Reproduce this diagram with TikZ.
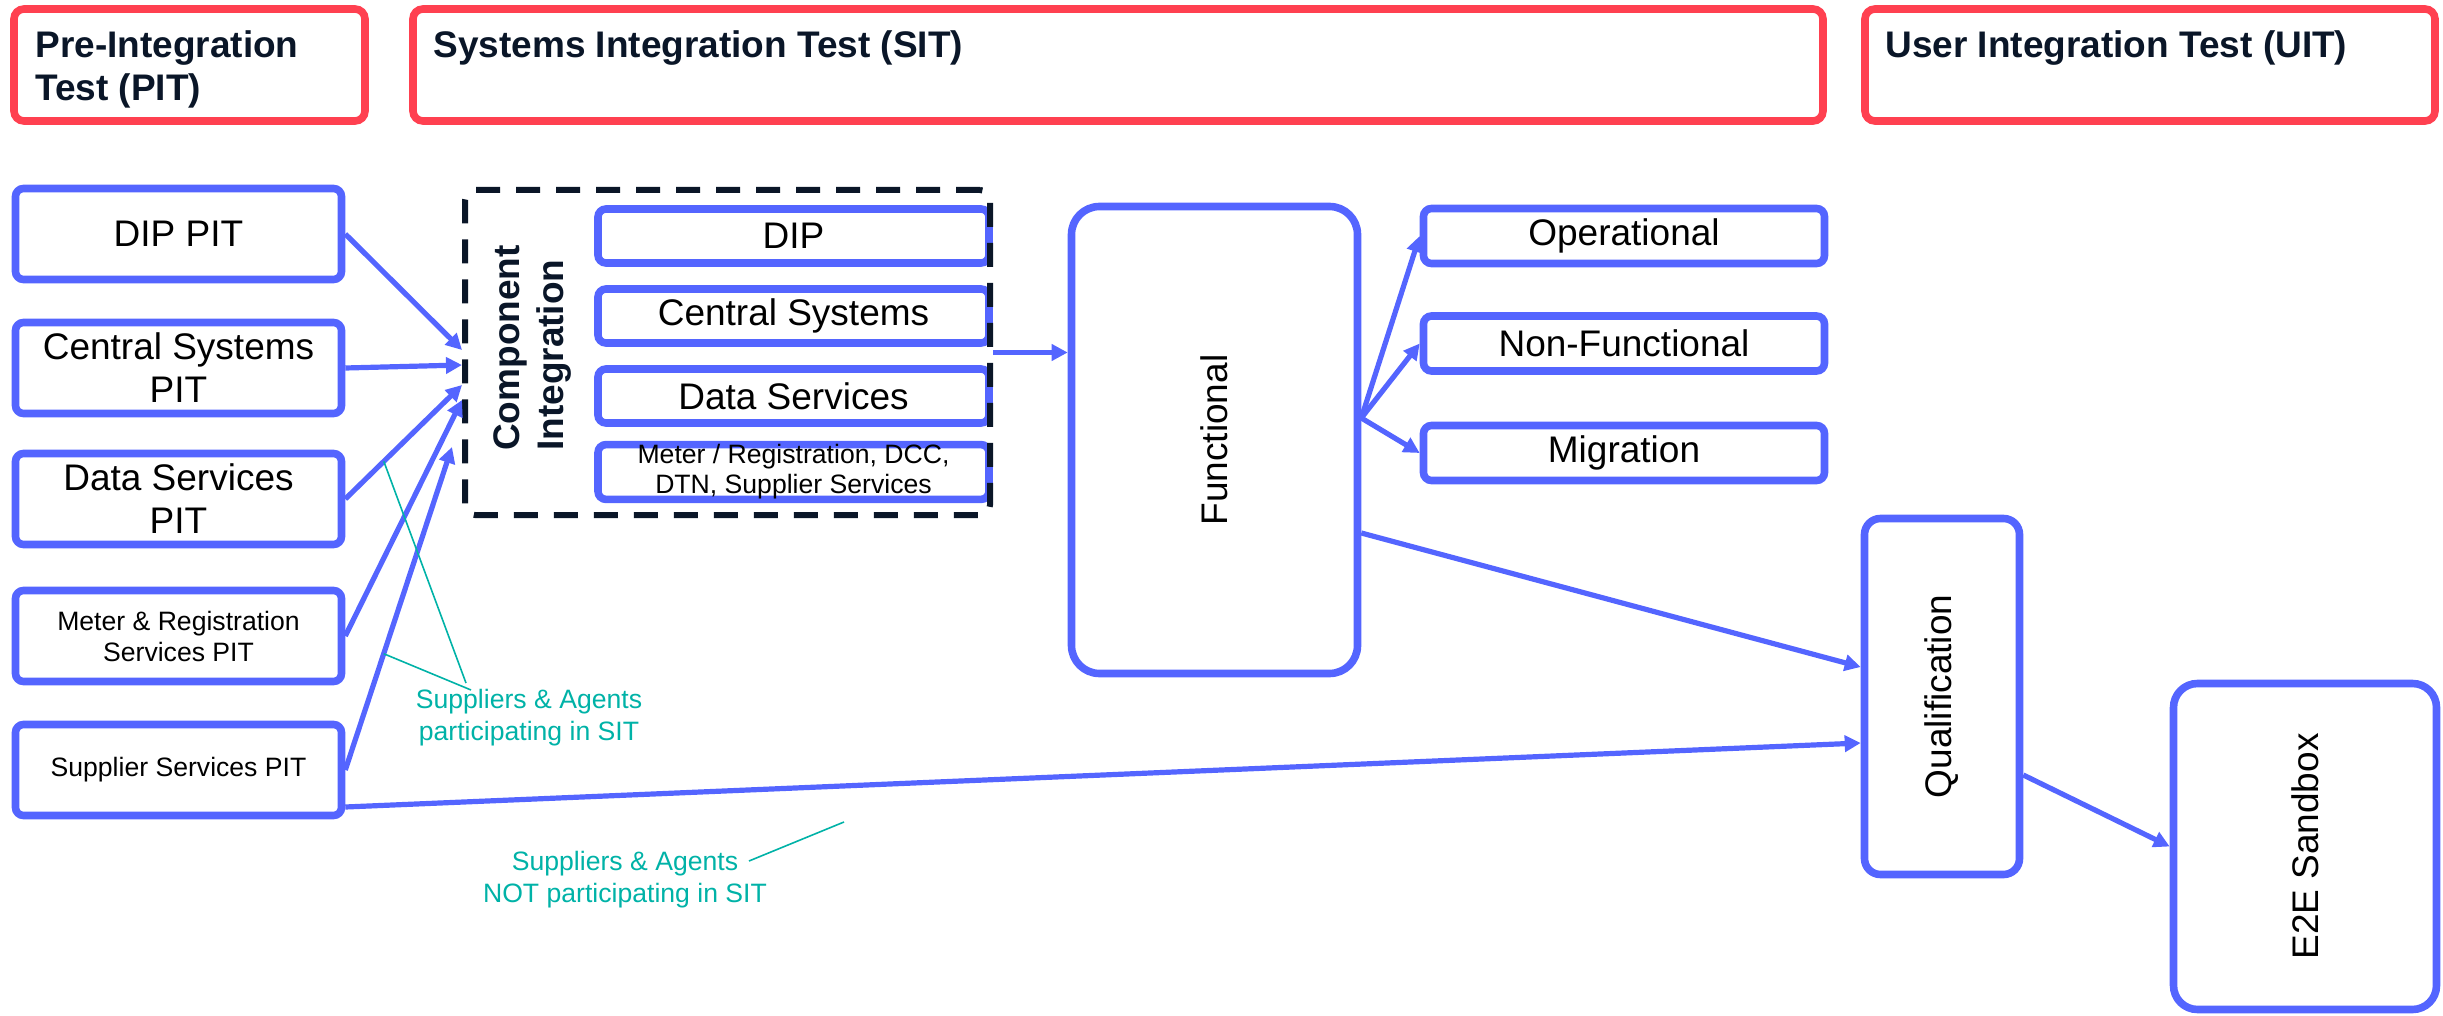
\documentclass[tikz,border=0pt]{standalone}
\usepackage{fontspec}
\usepackage{graphicx}
\setmainfont{Liberation Sans}
\usetikzlibrary{arrows.meta,calc}
\definecolor{cblue}{RGB}{84,101,255}
\definecolor{cred}{RGB}{255,64,80}
\definecolor{cnavy}{RGB}{10,22,40}
\definecolor{cteal}{RGB}{0,178,167}
\begin{document}
\begin{tikzpicture}[x=0.5pt,y=-0.5pt,
 hdr/.style={draw=cred, line width=3.8pt, rounded corners=5pt, minimum height=56pt},
 hdrtext/.style={font=\bfseries\fontsize{18.5}{21.5}\selectfont, text=cnavy, align=left, inner sep=0pt, anchor=north west},
 bbox/.style={draw=cblue, line width=3.8pt, rounded corners=4pt, align=center, font=\fontsize{18.5}{21.5}\selectfont, inner sep=0pt},
 smalltxt/.style={font=\fontsize{13.3}{15.5}\selectfont},
 big/.style={draw=cblue, line width=3.8pt, font=\fontsize{18.5}{21.5}\selectfont, inner sep=0pt},
 arr/.style={draw=cblue, line width=2.6pt, -{Triangle[length=8pt,width=8pt]}},
 note/.style={text=cteal, font=\fontsize{13.3}{16}\selectfont, align=center, inner sep=0pt},
 noteline/.style={draw=cteal, line width=0.8pt},
]
\useasboundingbox (0,0) rectangle (2443,1016);

% headers
\node[hdr, minimum width=175.5pt] (pit) at (189.5,65) {};
\node[hdr, minimum width=705pt] (sit) at (1118,65) {};
\node[hdr, minimum width=285pt] (uit) at (2150,65) {};
\node[hdrtext] (pitlbl) at (35,30) {Pre-Integration\\Test (PIT)};
\node[hdrtext] (sitlbl) at (433,30) {Systems Integration Test (SIT)};
\node[hdrtext] (uitlbl) at (1885,30) {User Integration Test (UIT)};

% PIT boxes
\node[bbox, minimum width=163pt, minimum height=45.5pt] (dippit) at (178.5,234) {DIP PIT};
\node[bbox, minimum width=163pt, minimum height=45.5pt] (cspit) at (178.5,368) {Central Systems\\PIT};
\node[bbox, minimum width=163pt, minimum height=45.5pt] (dspit) at (178.5,499) {Data Services\\PIT};
\node[bbox, smalltxt, minimum width=163pt, minimum height=45.5pt] (mrpit) at (178.5,636) {Meter \& Registration\\Services PIT};
\node[bbox, smalltxt, minimum width=163pt, minimum height=45.5pt] (sspit) at (178.5,770) {Supplier Services PIT};

% component integration
\node[bbox, minimum width=195.5pt, minimum height=27pt] (dip) at (793.5,236) {DIP};
\node[bbox, minimum width=195.5pt, minimum height=27pt] (cs) at (793.5,316) {Central Systems};
\node[bbox, minimum width=195.5pt, minimum height=27pt] (ds) at (793.5,396) {Data Services};
\node[bbox, minimum width=195.5pt, minimum height=27pt, font=\fontsize{13.3}{15}\selectfont] (mr) at (793.5,472) {Meter / Registration, DCC,\\DTN, Supplier Services};
\node[draw=cnavy, line width=3pt, dash pattern=on 12pt off 8pt, rounded corners=5pt, minimum width=262.5pt, minimum height=162.5pt] (ci) at (727.5,352.5) {};
\node[font=\bfseries\fontsize{18.5}{22}\selectfont, text=cnavy, rotate=90, align=left, inner sep=0pt] (cilbl) at (532,348) {Component\\Integration};

% SIT / UIT boxes
\node[big, rounded corners=14pt, minimum width=143pt, minimum height=233.5pt] (func) at (1214.5,440) {\rotatebox{90}{Functional}};
\node[bbox, minimum width=200.5pt, minimum height=27.5pt] (op) at (1624,236) {Operational};
\node[bbox, minimum width=200.5pt, minimum height=27.5pt] (nf) at (1624,343.5) {Non-Functional};
\node[bbox, minimum width=200.5pt, minimum height=27.5pt] (mig) at (1624,453) {Migration};
\node[big, rounded corners=8pt, minimum width=77.5pt, minimum height=178pt] (qual) at (1942,696.5) {\rotatebox{90}{Qualification}};
\node[big, rounded corners=12pt, minimum width=131.5pt, minimum height=163pt] (e2e) at (2305,846.5) {\rotatebox{90}{E2E Sandbox}};

% arrow end points
\coordinate (tdip) at ($(ci.west)+(0,-2.5)$);
\coordinate (tcs) at ($(ci.west)+(0,12.5)$);
\coordinate (tds) at ($(ci.west)+(0,32.5)$);
\coordinate (tmr) at ($(ci.west)+(0,47.5)$);
\coordinate (tss) at ($(ci.west)+(-10,94.5)$);
\coordinate (fo) at ($(func.east)+(0,-22)$);

\draw[arr] (dippit.east) -- (tdip);
\draw[arr] (cspit.east) -- (tcs);
\draw[arr] (dspit.east) -- (tds);
\draw[arr] (mrpit.east) -- (tmr);
\draw[arr] (sspit.east) -- (tss);
\draw[arr] ($(sspit.east)+(0,37)$) -- ($(qual.west)+(0,46.5)$);
\draw[arr] (ci.east) -- (ci.east -| func.west);
\draw[arr] (fo) -- (op.west);
\draw[arr] (fo) -- (nf.west);
\draw[arr] (fo) -- (mig.west);
\draw[arr] ($(func.east)+(0,93)$) -- ($(qual.west)+(0,-29.5)$);
\draw[arr] ($(qual.east)+(0,78.5)$) -- (e2e.west);

% notes
\node[note] (part) at (529,718) {Suppliers \& Agents\\participating in SIT};
\node[note] (notpart) at (625,880) {Suppliers \& Agents\\NOT participating in SIT};
\coordinate (pa) at ($(dspit.east)!0.33!(tds)$);
\coordinate (pb) at ($(sspit.east)!0.36!(tss)$);
\coordinate (pe1) at (466,683);
\coordinate (pe2) at (471,690);
\coordinate (ne1) at (749,861);
\coordinate (ne2) at (844,822);
\draw[noteline] (pa) -- (pe1);
\draw[noteline] (pb) -- (pe2);
\draw[noteline] (ne1) -- (ne2);
\end{tikzpicture}
\end{document}
